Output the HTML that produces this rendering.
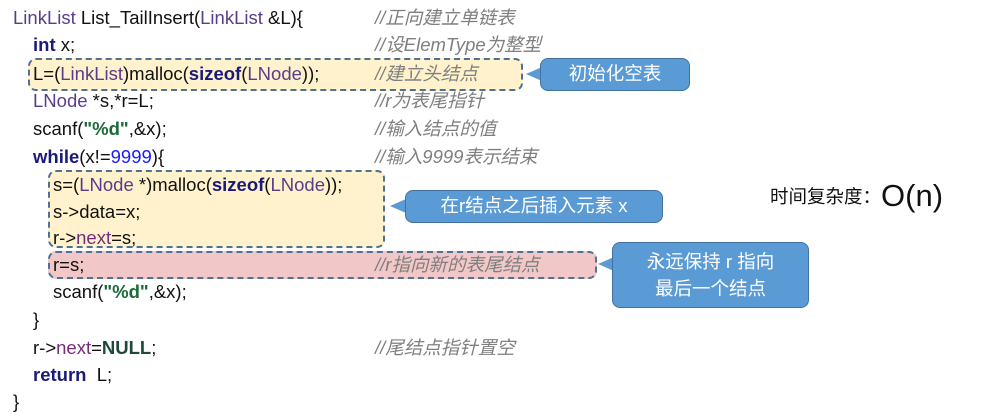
<!DOCTYPE html>
<html><head><meta charset="utf-8"><style>
body{margin:0;width:983px;height:416px;background:#fff;position:relative;overflow:hidden;font-family:"Liberation Sans","Noto Sans CJK SC",sans-serif;}
.l{position:absolute;font-size:18.5px;line-height:24px;white-space:nowrap;color:#111;transform:translateY(-12px);}
.c{position:absolute;left:375px;font-size:18.5px;line-height:24px;font-style:italic;color:#7f7f7f;white-space:nowrap;transform:translateY(-12px);}
.t{color:#5a3d8a}.k{color:#1a1a7a;font-weight:bold}.n{color:#7a2a7a}.b{color:#1a1aff}.g{color:#1a6a3a;font-weight:bold}.nl{color:#1d4a3a;font-weight:bold}
.box{position:absolute;border:2px dashed #4f7194;border-radius:8px;box-sizing:border-box;}
.cl{position:absolute;background:#5b9bd5;border:1.5px solid #41719c;border-radius:8px;color:#fff;font-size:18.5px;text-align:center;box-sizing:border-box;}
.tri{position:absolute;width:0;height:0;border-top:7px solid transparent;border-bottom:7px solid transparent;border-right:16px solid #5b9bd5;}
</style></head><body>
<div class="box" style="left:28px;top:58px;width:495px;height:33px;background:#fff2cc"></div>
<div class="box" style="left:48px;top:170px;width:337px;height:78px;background:#fff2cc"></div>
<div class="box" style="left:48px;top:251px;width:549px;height:28px;background:#f2c7c7"></div>

<div class="tri" style="left:526px;top:67px"></div>
<div class="cl" style="left:540px;top:58px;width:150px;height:33px;line-height:30px">初始化空表</div>
<div class="tri" style="left:390px;top:199px"></div>
<div class="cl" style="left:405px;top:190px;width:258px;height:33px;line-height:30px">在r结点之后插入元素 x</div>
<div class="tri" style="left:598px;top:257px"></div>
<div class="cl" style="left:612px;top:242px;width:197px;height:66px;line-height:27px;padding-top:5px">永远保持 r 指向<br>最后一个结点</div>

<div class="l" style="left:13px;top:18px"><span class="t">LinkList</span> List_TailInsert(<span class="t">LinkList</span> &amp;L){</div>
<div class="l" style="left:33px;top:45px"><span class="k">int</span> x;</div>
<div class="l" style="left:33px;top:74px">L=(<span class="t">LinkList</span>)malloc(<span class="k">sizeof</span>(<span class="t">LNode</span>));</div>
<div class="l" style="left:33px;top:101px"><span class="t">LNode</span> *s,*r=L;</div>
<div class="l" style="left:33px;top:129px">scanf(<span class="g">"%d"</span>,&amp;x);</div>
<div class="l" style="left:33px;top:157px"><span class="k">while</span>(x!=<span class="b">9999</span>){</div>
<div class="l" style="left:53px;top:185px">s=(<span class="t">LNode</span> *)malloc(<span class="k">sizeof</span>(<span class="t">LNode</span>));</div>
<div class="l" style="left:53px;top:212px">s-&gt;data=x;</div>
<div class="l" style="left:53px;top:238px">r-&gt;<span class="n">next</span>=s;</div>
<div class="l" style="left:53px;top:265px">r=s;</div>
<div class="l" style="left:53px;top:292px">scanf(<span class="g">"%d"</span>,&amp;x);</div>
<div class="l" style="left:33px;top:320px">}</div>
<div class="l" style="left:33px;top:348px">r-&gt;<span class="n">next</span>=<span class="nl">NULL</span>;</div>
<div class="l" style="left:33px;top:375px"><span class="k">return</span>&nbsp; L;</div>
<div class="l" style="left:13px;top:402px">}</div>

<div class="c" style="top:18px">//正向建立单链表</div>
<div class="c" style="top:45px">//设ElemType为整型</div>
<div class="c" style="top:74px">//建立头结点</div>
<div class="c" style="top:101px">//r为表尾指针</div>
<div class="c" style="top:129px">//输入结点的值</div>
<div class="c" style="top:157px">//输入9999表示结束</div>
<div class="c" style="top:265px">//r指向新的表尾结点</div>
<div class="c" style="top:348px">//尾结点指针置空</div>

<div style="position:absolute;left:770px;top:178px;white-space:nowrap;color:#111"><span style="font-size:18.5px;vertical-align:middle">时间复杂度：</span><span style="font-size:31px;vertical-align:middle">O(n)</span></div>
</body></html>
